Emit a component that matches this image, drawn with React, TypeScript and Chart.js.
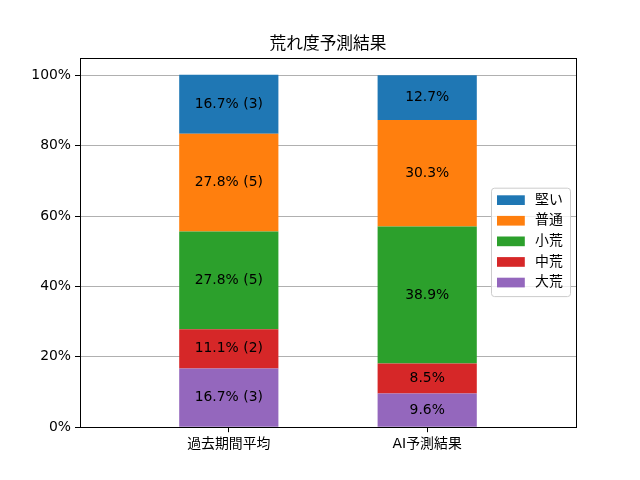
import React, { useEffect, useRef } from "react";
import { Chart, registerables } from "chart.js";

Chart.register(...registerables);

const categories = ["過去期間平均", "AI予測結果"];
const seriesNames = ["大荒", "中荒", "小荒", "普通", "堅い"];
const seriesColors = ["#9467bd", "#d62728", "#2ca02c", "#ff7f0e", "#1f77b4"];

const daiareValues = [16.7, 9.6];
const chuareValues = [11.1, 8.5];
const shoareValues = [27.8, 38.9];
const futsuValues = [27.8, 30.3];
const kataiValues = [16.7, 12.7];

const daiareCounts = [3, null];
const chuareCounts = [2, null];
const shoareCounts = [5, null];
const futsuCounts = [5, null];
const kataiCounts = [3, null];

const yTicks = [0, 20, 40, 60, 80, 100];
const titleText = "荒れ度予測結果";

const seriesValues = [daiareValues, chuareValues, shoareValues, futsuValues, kataiValues];
const seriesCounts = [daiareCounts, chuareCounts, shoareCounts, futsuCounts, kataiCounts];

const FONT = "'DejaVu Sans', 'Noto Sans CJK JP', sans-serif";
const FS = 13.9;

const overlayPlugin = {
  id: "overlay",
  afterDatasetsDraw(chart: any) {
    const ctx = chart.ctx;
    const ca = chart.chartArea;
    ctx.save();
    ctx.font = `${FS}px ${FONT}`;
    ctx.fillStyle = "#000";
    ctx.textAlign = "center";
    ctx.textBaseline = "middle";
    chart.data.datasets.forEach((ds: any, di: number) => {
      const meta = chart.getDatasetMeta(di);
      meta.data.forEach((el: any, i: number) => {
        const v = seriesValues[di][i];
        const c = seriesCounts[di][i];
        const txt = c != null ? `${v.toFixed(1)}% (${c})` : `${v.toFixed(1)}%`;
        ctx.fillText(txt, el.x, (el.y + el.base) / 2);
      });
    });
    const l = Math.round(ca.left);
    const t = Math.round(ca.top);
    const r = Math.round(ca.right);
    const b = Math.round(ca.bottom);
    ctx.strokeStyle = "#000";
    ctx.lineWidth = 1;
    ctx.strokeRect(l + 0.5, t + 0.5, r - l, b - t);
    ctx.restore();
  },
  afterDraw(chart: any) {
    const ctx = chart.ctx;
    const ca = chart.chartArea;
    ctx.save();
    ctx.font = `${16.7}px ${FONT}`;
    ctx.fillStyle = "#000";
    ctx.textAlign = "center";
    ctx.textBaseline = "middle";
    ctx.fillText(titleText, (ca.left + ca.right) / 2, 45);

    const rowH = 20.6;
    const n = seriesNames.length;
    const boxW = 79;
    const boxH = 108.4;
    const right = ca.right - 5.5;
    const left = right - boxW;
    const cy = (ca.top + ca.bottom) / 2;
    const top = cy - boxH / 2;
    ctx.beginPath();
    (ctx as any).roundRect(left, top, boxW, boxH, 3);
    ctx.fillStyle = "rgba(255,255,255,0.8)";
    ctx.fill();
    ctx.strokeStyle = "#cccccc";
    ctx.lineWidth = 1;
    ctx.stroke();
    ctx.font = `${FS}px ${FONT}`;
    ctx.textAlign = "left";
    ctx.textBaseline = "middle";
    for (let k = 0; k < n; k++) {
      const si = n - 1 - k;
      const y = top + 12 + rowH * k;
      ctx.fillStyle = seriesColors[si];
      ctx.fillRect(left + 5.5, y - 4.9, 27.8, 9.7);
      ctx.fillStyle = "#000";
      ctx.fillText(seriesNames[si], left + 43.5, y);
    }
    ctx.restore();
  },
};

export default function App() {
  const ref = useRef<HTMLCanvasElement>(null);
  useEffect(() => {
    if (!ref.current) return;
    Chart.defaults.font.family = FONT;
    Chart.defaults.font.size = FS;
    Chart.defaults.color = "#000";
    const chart = new Chart(ref.current, {
      type: "bar",
      data: {
        datasets: seriesNames.map((name, si) => ({
          label: name,
          data: seriesValues[si].map((v, i) => ({ x: i, y: v })),
          backgroundColor: seriesColors[si],
          borderWidth: 0,
          categoryPercentage: 1,
          barPercentage: 0.5,
        })),
      },
      options: {
        animation: false,
        responsive: false,
        devicePixelRatio: 1,
        layout: { padding: { top: 57.6, right: 64, left: 0, bottom: 0 } },
        plugins: {
          legend: { display: false },
          title: { display: false },
          tooltip: { enabled: false },
        },
        scales: {
          x: {
            type: "linear",
            stacked: true,
            offset: false,
            min: -0.75,
            max: 1.75,
            afterBuildTicks: (scale: any) => {
              scale.ticks = categories.map((_, i) => ({ value: i }));
            },
            afterFit: (scale: any) => {
              scale.height = 52.8;
            },
            ticks: {
              padding: 4,
              maxRotation: 0,
              autoSkip: false,
              font: { size: FS, family: FONT },
              color: "#000",
              callback: (v: any) => categories[v] ?? "",
            },
            grid: {
              offset: false,
              drawOnChartArea: false,
              drawTicks: true,
              tickLength: 5,
              tickColor: "#000",
              tickWidth: 1,
            },
            border: { display: false },
          },
          y: {
            type: "linear",
            stacked: true,
            min: 0,
            max: 105,
            afterBuildTicks: (scale: any) => {
              scale.ticks = yTicks.map((v) => ({ value: v }));
            },
            afterFit: (scale: any) => {
              scale.width = 80;
            },
            ticks: {
              padding: 4,
              font: { size: FS, family: FONT },
              color: "#000",
              callback: (v: any) => `${v}%`,
            },
            grid: {
              color: "#b0b0b0",
              lineWidth: 1,
              drawTicks: true,
              tickLength: 5,
              tickColor: "#000",
              tickWidth: 1,
            },
            border: { display: false },
          },
        },
      },
      plugins: [overlayPlugin],
    } as any);
    return () => chart.destroy();
  }, []);
  return (
    <canvas
      ref={ref}
      width={640}
      height={480}
      style={{ position: "absolute", left: 0, top: 0, width: 640, height: 480, background: "#fff" }}
    />
  );
}
